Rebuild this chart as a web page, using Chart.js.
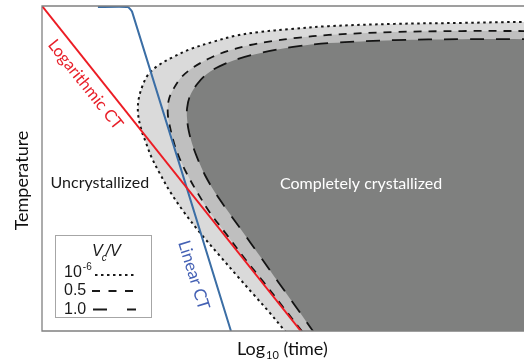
<!DOCTYPE html>
<html>
<head>
<meta charset="utf-8">
<script src="https://cdn.jsdelivr.net/npm/chart.js@4.4.1/dist/chart.umd.min.js"></script>
<style>
  html, body { margin: 0; padding: 0; background: #fff; }
  #wrap { width: 524px; height: 364px; }
</style>
</head>
<body>
<div id="wrap"><canvas id="c" width="524" height="364"></canvas></div>
<script>
// Axis ranges in arbitrary units: x = log10(time), y = temperature
const X_MIN = 0, X_MAX = 100, Y_MIN = 0, Y_MAX = 100;

// Transformation curves, traced from the time axis round the nose to the right edge
// Crystallized fraction Vc/V = 1e-6 (onset)
const onsetTime = [50.4, 46.9, 43.8, 40.7, 36.9, 32.8, 29.3, 26.6, 24.5, 22.8, 21.6, 20.5, 19.9, 20.1, 21.0, 22.0, 23.9, 27.2, 30.9, 35.3, 40.0, 45.2, 51.5, 59.5, 73.2, 87.1, 100];
const onsetTemp = [0, 6.2, 11.4, 16.6, 23.1, 30.2, 36.9, 42.8, 48.3, 53.2, 57.8, 62.5, 67.4, 71.7, 76.0, 78.8, 81.5, 84.3, 86.8, 88.9, 90.8, 92.0, 92.9, 93.8, 94.5, 94.8, 95.1];

// Vc/V = 0.5
const halfTime = [53.9, 50.0, 46.1, 42.1, 38.4, 34.9, 32.4, 30.3, 28.6, 27.4, 26.6, 26.1, 26.3, 27.4, 29.0, 31.5, 34.9, 38.6, 43.2, 47.7, 52.9, 59.5, 73.2, 87.1, 100];
const halfTemp = [0, 7.4, 14.8, 22.2, 29.5, 36.3, 42.2, 47.7, 52.9, 57.8, 62.5, 66.8, 71.1, 74.8, 78.2, 81.2, 84.0, 86.2, 88.0, 89.2, 90.2, 91.1, 92.0, 92.3, 92.3];

// Vc/V = 1.0 (complete)
const fullTime = [56.2, 52.7, 49.0, 45.2, 41.5, 38.4, 35.7, 33.8, 32.4, 31.3, 30.5, 30.1, 30.1, 30.7, 32.2, 34.2, 36.9, 40.7, 45.2, 52.1, 59.5, 73.2, 87.1, 100];
const fullTemp = [0, 7.4, 15.1, 23.1, 30.8, 37.2, 43.1, 48.0, 52.6, 56.9, 61.2, 65.2, 68.6, 72.3, 76.0, 79.1, 81.5, 83.7, 85.5, 87.4, 88.6, 89.5, 89.8, 89.8];

// Cooling paths
const logCoolTime = [0, 53.7];
const logCoolTemp = [100, 0];
const linCoolTime = [11.6, 17.8, 18.7, 39.2];
const linCoolTemp = [99.7, 99.7, 98.2, 0];

// Legend entries for the crystallized fraction
const legendBase = ['10', '0.5', '1.0'];
const legendExp = ['-6', '', ''];

function pts(xs, ys) {
  return xs.map((x, i) => ({ x, y: ys[i] }));
}

// Close a curve into a filled region: continue it below the time axis and
// past the right edge so the closing edges fall outside the plot area.
function region(xs, ys) {
  const p = pts(xs, ys);
  const a = p[0], b = p[1], z = p[p.length - 1];
  return [
    { x: 2 * a.x - b.x, y: 2 * a.y - b.y },
    ...p,
    { x: X_MAX + 20, y: z.y },
    { x: X_MAX + 20, y: Y_MIN - 20 }
  ];
}

const FONT = 'Lato, "Open Sans", sans-serif';
const LEG_FONT = '"Liberation Sans", Arial, sans-serif';

function labelAlong(ctx, p0, p1, t, d, text, color, font) {
  const dx = p1.x - p0.x, dy = p1.y - p0.y;
  const len = Math.hypot(dx, dy);
  const ux = dx / len, uy = dy / len;
  const nx = -uy, ny = ux;
  const cx = p0.x + dx * t + nx * d;
  const cy = p0.y + dy * t + ny * d;
  ctx.save();
  ctx.translate(cx, cy);
  ctx.rotate(Math.atan2(dy, dx));
  ctx.font = font;
  ctx.fillStyle = color;
  ctx.textAlign = 'center';
  ctx.textBaseline = 'middle';
  ctx.fillText(text, 0, 0);
  ctx.restore();
}

const annotate = {
  id: 'annotate',
  afterDatasetsDraw(chart) {
    const { ctx, chartArea: a, scales } = chart;
    const sx = scales.x, sy = scales.y;
    const px = (x, y) => ({ x: sx.getPixelForValue(x), y: sy.getPixelForValue(y) });
    ctx.save();

    // plot frame: left, top and bottom edges
    ctx.strokeStyle = '#808080';
    ctx.lineWidth = 1.3;
    ctx.beginPath();
    ctx.moveTo(a.right, a.top);
    ctx.lineTo(a.left, a.top);
    ctx.lineTo(a.left, a.bottom);
    ctx.lineTo(a.right, a.bottom);
    ctx.stroke();

    // region names
    ctx.textAlign = 'center';
    ctx.textBaseline = 'middle';
    ctx.font = '16px ' + FONT;
    ctx.fillStyle = '#1a1a1a';
    const u = px(12.0, 45.5);
    ctx.fillText('Uncrystallized', u.x, u.y);
    ctx.fillStyle = '#ffffff';
    const c = px(66.2, 45.2);
    ctx.fillText('Completely crystallized', c.x, c.y);

    // cooling path names, written along their lines
    const r0 = px(logCoolTime[0], logCoolTemp[0]);
    const r1 = px(logCoolTime[1], logCoolTemp[1]);
    labelAlong(ctx, r0, r1, 0.213, 15, 'Logarithmic CT', '#e8202a', '16.5px ' + FONT);
    const n = linCoolTime.length;
    const b0 = px(linCoolTime[n - 2], linCoolTemp[n - 2]);
    const b1 = px(linCoolTime[n - 1], linCoolTemp[n - 1]);
    labelAlong(ctx, b0, b1, 0.807, 19, 'Linear CT', '#4461b4', '17px ' + FONT);

    // axis titles
    ctx.fillStyle = '#111';
    ctx.font = '18px ' + FONT;
    ctx.save();
    ctx.translate(22, (a.top + a.bottom) / 2 + 12);
    ctx.rotate(-Math.PI / 2);
    ctx.textAlign = 'center';
    ctx.textBaseline = 'middle';
    ctx.fillText('Temperature', 0, 0);
    ctx.restore();

    ctx.textAlign = 'left';
    ctx.textBaseline = 'alphabetic';
    let tx = 237;
    const base = 355;
    ctx.font = '18px ' + FONT;
    ctx.fillText('Log', tx, base);
    tx += ctx.measureText('Log').width + 1;
    ctx.font = '11px ' + FONT;
    ctx.fillText('10', tx, base + 4);
    tx += ctx.measureText('10').width;
    ctx.font = '18px ' + FONT;
    ctx.fillText(' (time)', tx, base);

    // legend box
    ctx.fillStyle = '#ffffff';
    ctx.fillRect(55.5, 235.5, 96, 82);
    ctx.strokeStyle = '#a6a6a6';
    ctx.lineWidth = 1;
    ctx.strokeRect(55.5, 235.5, 96, 82);

    ctx.fillStyle = '#1a1a1a';
    tx = 92;
    ctx.font = 'italic 16px ' + LEG_FONT;
    ctx.fillText('V', tx, 256);
    tx += ctx.measureText('V').width - 1;
    ctx.font = 'italic 10px ' + LEG_FONT;
    ctx.fillText('c', tx, 261);
    tx += ctx.measureText('c').width - 1;
    ctx.font = 'italic 16px ' + LEG_FONT;
    ctx.fillText('/V', tx, 256);

    const rowBase = [277, 295, 314];
    const rowLine = [275, 291, 309.5];
    const dashes = [[2.5, 3.5], [8, 8.5], [14, 20]];
    const lineStart = [95, 92, 93];
    for (let i = 0; i < legendBase.length; i++) {
      ctx.font = '16px ' + LEG_FONT;
      ctx.fillStyle = '#1a1a1a';
      ctx.fillText(legendBase[i], 64, rowBase[i]);
      if (legendExp[i]) {
        const w = ctx.measureText(legendBase[i]).width;
        ctx.font = '10px ' + LEG_FONT;
        ctx.fillText(legendExp[i], 64 + w + 1, rowBase[i] - 7);
      }
      ctx.strokeStyle = '#1a1a1a';
      ctx.lineWidth = 2;
      ctx.setLineDash(dashes[i]);
      ctx.beginPath();
      ctx.moveTo(lineStart[i], rowLine[i]);
      ctx.lineTo(136, rowLine[i]);
      ctx.stroke();
    }
    ctx.setLineDash([]);
    ctx.restore();
  }
};

const regionStyle = {
  showLine: true,
  fill: 'shape',
  borderColor: '#141414',
  pointRadius: 0,
  tension: 0.35,
  clip: 0
};

new Chart(document.getElementById('c'), {
  type: 'line',
  data: {
    datasets: [
      { label: 'Logarithmic CT', data: pts(logCoolTime, logCoolTemp), borderColor: '#ec1c24', borderWidth: 2, pointRadius: 0, tension: 0, fill: false, clip: 0 },
      { label: 'Linear CT', data: pts(linCoolTime, linCoolTemp), borderColor: '#3b6ea5', borderWidth: 2, pointRadius: 0, tension: 0.15, fill: false, clip: 0 },
      Object.assign({ label: 'Vc/V = 1.0', data: region(fullTime, fullTemp), backgroundColor: '#7f807f', borderWidth: 1.8, borderDash: [14, 12] }, regionStyle),
      Object.assign({ label: 'Vc/V = 0.5', data: region(halfTime, halfTemp), backgroundColor: '#bfbfbf', borderWidth: 1.8, borderDash: [8, 7] }, regionStyle),
      Object.assign({ label: 'Vc/V = 1e-6', data: region(onsetTime, onsetTemp), backgroundColor: '#dadada', borderWidth: 2, borderDash: [2.5, 3.5] }, regionStyle)
    ]
  },
  options: {
    responsive: false,
    animation: false,
    events: [],
    layout: { padding: { left: 42, top: 6, right: 0, bottom: 33 } },
    scales: {
      x: { type: 'linear', min: X_MIN, max: X_MAX, display: false },
      y: { type: 'linear', min: Y_MIN, max: Y_MAX, display: false }
    },
    plugins: { legend: { display: false }, tooltip: { enabled: false } }
  },
  plugins: [annotate]
});
</script>
</body>
</html>
